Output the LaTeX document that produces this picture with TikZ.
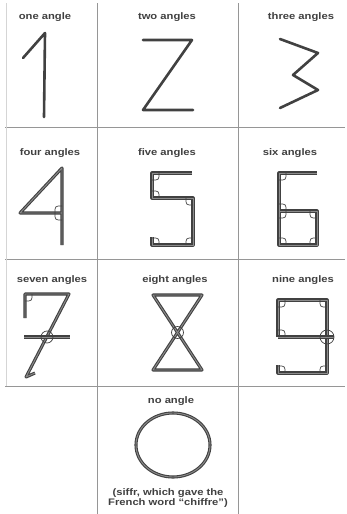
\documentclass[tikz,border=0pt]{standalone}
\usepackage{fontspec}
\setmainfont{Liberation Sans}
\usepackage{graphicx}
\usepackage{tikz}
\usetikzlibrary{positioning}
\definecolor{inkgray}{RGB}{65,65,65}
\definecolor{rulegray}{RGB}{150,150,150}
\newcommand\lbl[1]{\scalebox{1.18}[1]{#1}}

\begin{document}
\begin{tikzpicture}[
    x=1pt, y=-1pt,
    lab/.style={font=\fontsize{9.5}{10.5}\selectfont\bfseries, text=black!75, inner sep=0pt, align=center},
    rule/.style={rulegray, line width=0.9pt},
    stroke/.style={inkgray, line width=2.6pt, line join=round, line cap=round},
    dstroke/.style={inkgray, line width=1.1pt, double=black!45, double distance=0.9pt, line join=round},
    angmark/.style={inkgray, line width=0.7pt}
]
\useasboundingbox (0,0) rectangle (347,514);

% grid
\draw[rule] (97,3) -- (97,514);
\draw[rule] (238,3) -- (238,514);
\foreach \y in {127,259,386} {
    \draw[rule] (5,\y) -- (345,\y);
}
\draw[rulegray!40, line width=0.6pt] (6,3) -- (6,386);

% labels
\node[lab] (l1) at (45,17) {\lbl{one angle}};
\node[lab] (l2) at (167,17) {\lbl{two angles}};
\node[lab] (l3) at (301,17) {\lbl{three angles}};
\node[lab] (l4) at (50,153) {\lbl{four angles}};
\node[lab] (l5) at (167,153) {\lbl{five angles}};
\node[lab] (l6) at (290,153) {\lbl{six angles}};
\node[lab] (l7) at (52,280) {\lbl{seven angles}};
\node[lab] (l8) at (175,280) {\lbl{eight angles}};
\node[lab] (l9) at (303,280) {\lbl{nine angles}};
\node[lab] (l0) at (171,401) {\lbl{no angle}};
\node[lab] (cap) at (168,498) {\lbl{(siffr, which gave the}\\\lbl{French word ``chiffre'')}};

% 1 2 3
\draw[stroke] (23,58) -- (45,33) -- (44,117);
\draw[stroke] (143,40) -- (192,40) -- (143,110) -- (193,110);
\draw[stroke] (280,39) -- (318,53) -- (293,75) -- (318,90) -- (280,108);

% 4 5 6
\draw[dstroke] (62,245) -- (62,168) -- (20,213) -- (62,213);
\draw[dstroke] (192,173) -- (152,173) -- (152,198) -- (193,198) -- (193,245) -- (152,245) -- (152,237);
\draw[dstroke] (317,173) -- (279,173) -- (279,245) -- (317,245) -- (317,211) -- (279,211);

% 7 8 9
\draw[dstroke] (25,318) -- (25,294) -- (69,294) -- (26,377) -- (35,373);
\draw[dstroke] (24,337) -- (70,337);
\draw[angmark] (47,337) circle (6);
\draw[dstroke] (153,295) -- (202,295) -- (153,370) -- (202,370) -- cycle;
\draw[angmark] (177.5,332.5) circle (6);
\draw[dstroke] (278,337) -- (278,300) -- (327,300) -- (327,373) -- (278,373) -- (278,365);
\draw[dstroke] (278,337) -- (334,337);
\draw[angmark] (327,337) circle (7);

% 0
\draw[dstroke] (173,445) ellipse (37 and 32);

% angle marks
\foreach \x/\y/\a/\b in {62/213/-1/-1, 62/213/-1/1,
    152/173/1/1, 152/198/1/-1, 193/198/-1/1, 193/245/-1/-1, 152/245/1/-1,
    279/173/1/1, 279/211/1/-1, 279/211/1/1, 317/211/-1/1, 317/245/-1/-1, 279/245/1/-1,
    25/294/1/1,
    278/300/1/1, 327/300/-1/1, 278/337/1/-1, 327/373/-1/-1, 278/373/1/-1} {
    \draw[angmark] (\x+7*\a,\y) .. controls (\x+7*\a,\y+7*\b) .. (\x,\y+7*\b);
}

\end{tikzpicture}
\end{document}
